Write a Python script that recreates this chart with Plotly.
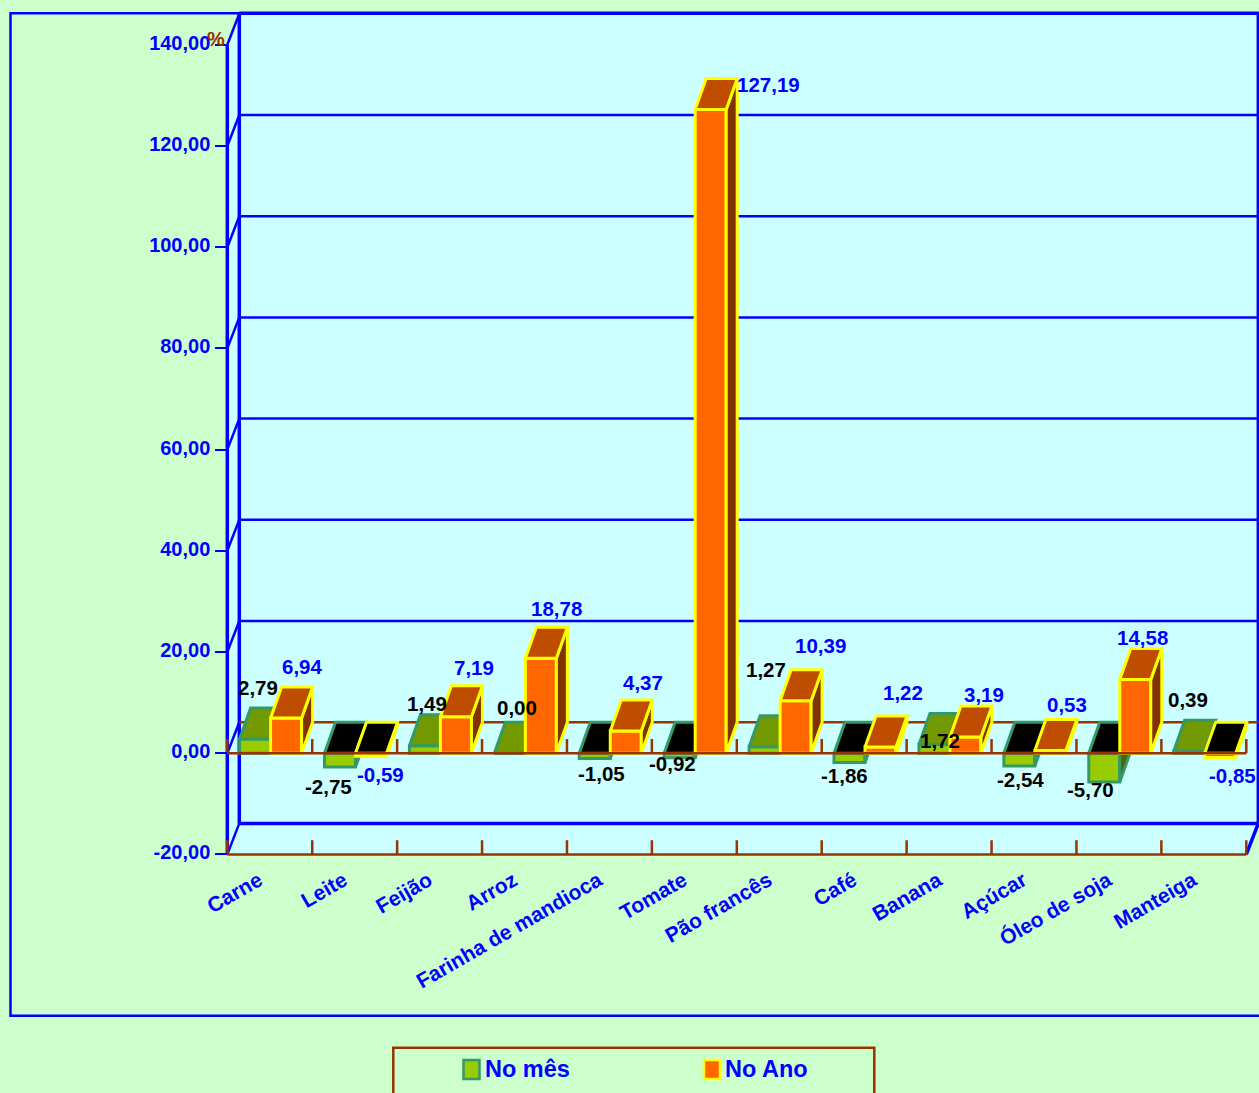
import plotly.graph_objects as go

categories = ["Carne", "Leite", "Feijão", "Arroz", "Farinha de mandioca", "Tomate",
              "Pão francês", "Café", "Banana", "Açúcar", "Óleo de soja", "Manteiga"]
no_mes = [2.79, -2.75, 1.49, 0.00, -1.05, -0.92, 1.27, -1.86, 1.72, -2.54, -5.70, 0.39]
no_ano = [6.94, -0.59, 7.19, 18.78, 4.37, 127.19, 10.39, 1.22, 3.19, 0.53, 14.58, -0.85]
y_ticks = [-20, 0, 20, 40, 60, 80, 100, 120, 140]

# label nudges in pixels (right, up) relative to each bar's front end
mes_nudge = [(4, 52), (-11, -19), (3, 42), (8, 46), (7, -15), (-6, -6),
             (2, 77), (-4, -13), (6, 4), (2, -13), (-13, -7), (0, 52)]
ano_nudge = [(14, 52), (8, -18), (16, 49), (14, 50), (16, 49), (56, 25),
             (23, 55), (21, 55), (17, 43), (15, 46), (6, 42), (11, -18)]

W, H = 1259, 1093
# plot frame in page pixels; the front axes sit a little inside so their strokes are not cut
L, R, T, B = 220.0, 1259.0, 6.0, 862.0
AX_L, AX_R, AX_B, ZERO = 227.3, 1246.3, 854.3, 753.2
PX_X = (AX_R - AX_L) / 12         # pixels per category
PX_Y = 5.06                       # pixels per value unit
DX = 12 / PX_X                    # oblique depth in axis units
BAR_DX = 11 / PX_X
DY = 31 / PX_Y
X_RANGE = [(L - AX_L) / PX_X, (R - AX_L) / PX_X]
Y_RANGE = [(ZERO - B) / PX_Y, (ZERO - T) / PX_Y]
BAR_W = 31 / PX_X
Y_BACK_TOP = (ZERO - 13.3) / PX_Y

BLUE = "#0000FF"
BROWN = "#993300"
FONT = "Liberation Sans"


def px(x):
    return (x - L) / (R - L)


def py(y):
    return (B - y) / (B - T)


def bold(size, color):
    return dict(family=FONT, size=size, color=color, weight=700)


def faces(values, offset):
    top_x, top_y, neg_x, neg_y, side_x, side_y = [], [], [], [], [], []
    for k, v in enumerate(values):
        x0 = k + 0.5 + offset
        x1 = x0 + BAR_W
        lev = max(v, 0)
        tx, ty = (top_x, top_y) if v >= 0 else (neg_x, neg_y)
        tx += [x0, x1, x1 + BAR_DX, x0 + BAR_DX, x0, None]
        ty += [lev, lev, lev + DY, lev + DY, lev, None]
        low = min(v, 0)
        side_x += [x1, x1 + BAR_DX, x1 + BAR_DX, x1, x1, None]
        side_y += [lev, lev + DY, low + DY, low, lev, None]
    return top_x, top_y, neg_x, neg_y, side_x, side_y


def poly(xs, ys, fill, line, width, ax):
    return go.Scatter(x=xs, y=ys, mode="lines", fill="toself", fillcolor=fill,
                      line=dict(color=line, width=width), hoverinfo="skip",
                      showlegend=False, xaxis="x" + ax, yaxis="y" + ax)


def lines(xs, ys, color, width, ax):
    return go.Scatter(x=xs, y=ys, mode="lines", line=dict(color=color, width=width),
                      hoverinfo="skip", showlegend=False, xaxis="x" + ax, yaxis="y" + ax)


fig = go.Figure()

# walls and floor
x_end = 12 + DX
y_top = Y_BACK_TOP
fig.add_trace(go.Scatter(x=[0, 0, DX, x_end, x_end, 12, 0],
                         y=[-20, 140, y_top, y_top, -20 + DY, -20, -20],
                         mode="lines", fill="toself", fillcolor="#CCFFFF", line=dict(width=0),
                         hoverinfo="skip", showlegend=False))

# back grid and left wall
gx, gy = [], []
for t in y_ticks:
    gx += [0, DX, None]
    gy += [t, t + DY, None]
    if t not in (0, 140):
        gx += [DX, x_end, None]
        gy += [t + DY, t + DY, None]
fig.add_trace(lines(gx, gy, BLUE, 2.5, ""))
fig.add_trace(lines([0, 0, None, DX, DX, None, DX, x_end, x_end, None, 12, x_end],
                    [-20, 140, None, -20 + DY, y_top, None, y_top, y_top, -20 + DY, None, -20, -20 + DY],
                    BLUE, 3.5, ""))
fig.add_trace(lines([DX, x_end], [DY, DY], BROWN, 2.5, ""))
fig.add_trace(lines([DX, x_end], [-20 + DY, -20 + DY], BLUE, 3.5, ""))

ORANGE_OFF = 0.01
GREEN_OFF = ORANGE_OFF - BAR_W
centres = [k + 0.5 for k in range(12)]

# series: No mês
t_x, t_y, n_x, n_y, s_x, s_y = faces(no_mes, GREEN_OFF)
fig.add_trace(go.Bar(name="No mês", x=centres, y=no_mes, width=BAR_W, offset=GREEN_OFF,
                     marker=dict(color="#99CC00", line=dict(color="#339966", width=3)),
                     xaxis="x2", yaxis="y2", hovertext=categories, showlegend=False))
fig.add_trace(poly(s_x, s_y, "#4D6600", "#339966", 3, "2"))
fig.add_trace(poly(t_x, t_y, "#739900", "#339966", 3, "2"))
fig.add_trace(poly(n_x, n_y, "#000000", "#339966", 3, "2"))

# series: No Ano
t_x, t_y, n_x, n_y, s_x, s_y = faces(no_ano, ORANGE_OFF)
fig.add_trace(go.Bar(name="No Ano", x=centres, y=no_ano, width=BAR_W, offset=ORANGE_OFF,
                     marker=dict(color="#FF6600", line=dict(color="#FFFF00", width=3)),
                     xaxis="x3", yaxis="y3", hovertext=categories, showlegend=False))
fig.add_trace(poly(s_x, s_y, "#803300", "#FFFF00", 3, "3"))
fig.add_trace(poly(t_x, t_y, "#BF4D00", "#FFFF00", 3, "3"))
fig.add_trace(poly(n_x, n_y, "#000000", "#FFFF00", 3, "3"))

# brown front axis and tick marks
fx, fy = [0, 12, None, 0, 12, None], [0, 0, None, -20, -20, None]
for k in range(13):
    fx += [k, k, None, k, k, None]
    fy += [0, 2.8, None, -20, -17.2, None]
fig.add_trace(lines(fx, fy, BROWN, 2.5, "4"))

annotations = []
for vals, nudge, anchor, color in ((no_mes, mes_nudge, 0.015 - 16.7 / PX_X, "#000000"),
                                   (no_ano, ano_nudge, 0.015 + 16.7 / PX_X, BLUE)):
    for k, v in enumerate(vals):
        annotations.append(dict(x=k + 0.5 + anchor, y=v, xref="x", yref="y",
                                text=f"{v:.2f}".replace(".", ","), showarrow=False,
                                xshift=nudge[k][0], yshift=nudge[k][1],
                                xanchor="center", yanchor="middle", font=bold(20.5, color)))
annotations.append(dict(x=px(216), y=py(39), xref="paper", yref="paper", text="%", showarrow=False,
                        xanchor="center", yanchor="middle", font=bold(20, BROWN)))

shapes = [
    dict(type="rect", xref="paper", yref="paper", layer="below",
         x0=px(10.5), x1=px(1270), y0=py(13.3), y1=py(1015.7),
         line=dict(color=BLUE, width=2.5)),
    dict(type="rect", xref="paper", yref="paper", layer="below",
         x0=px(393.3), x1=px(874.3), y0=py(1047.7), y1=py(1110),
         line=dict(color=BROWN, width=2.5)),
]
# legend entries
for name, fill, edge, x0, xt in (("No mês", "#99CC00", "#339966", 463.5, 483),
                                 ("No Ano", "#FF6600", "#FFFF00", 704, 723)):
    shapes.append(dict(type="rect", xref="paper", yref="paper", x0=px(x0), x1=px(x0 + 16),
                       y0=py(1060), y1=py(1079), fillcolor=fill, line=dict(color=edge, width=2.5)))
    annotations.append(dict(x=px(xt), y=py(1069), xref="paper", yref="paper", text=name,
                            showarrow=False, xanchor="left", yanchor="middle", font=bold(23.5, BLUE)))

hidden = dict(visible=False, fixedrange=True)
fig.update_layout(
    width=W, height=H, autosize=False,
    margin=dict(l=L, r=W - R, t=T, b=H - B, pad=0),
    paper_bgcolor="#CCFFCC", plot_bgcolor="rgba(0,0,0,0)",
    font=dict(family=FONT, color=BLUE, size=20),
    barmode="overlay",
    annotations=annotations,
    shapes=shapes,
    showlegend=False,
    xaxis=dict(range=X_RANGE, tickmode="array", tickvals=centres, ticktext=categories,
               anchor="free", position=py(AX_B),
               tickangle=-30, ticks="", showgrid=False, zeroline=False, showline=False,
               ticklabelstandoff=9, ticklabelshift=-11,
               tickfont=bold(21, BLUE), fixedrange=True),
    yaxis=dict(range=Y_RANGE, tickmode="array", tickvals=y_ticks,
               ticktext=[f"{t:.2f}".replace(".", ",") for t in y_ticks],
               anchor="free", position=px(AX_L),
               ticks="outside", ticklen=12, tickwidth=2, tickcolor=BLUE,
               ticklabelstandoff=1, ticklabelshift=-2,
               showgrid=False, zeroline=False, showline=False,
               tickfont=bold(20, BLUE), fixedrange=True),
    xaxis2=dict(overlaying="x", range=X_RANGE, **hidden),
    yaxis2=dict(overlaying="y", range=Y_RANGE, **hidden),
    xaxis3=dict(overlaying="x", range=X_RANGE, **hidden),
    yaxis3=dict(overlaying="y", range=Y_RANGE, **hidden),
    xaxis4=dict(overlaying="x", range=X_RANGE, **hidden),
    yaxis4=dict(overlaying="y", range=Y_RANGE, **hidden),
)

fig.write_html("out.html", config=dict(displayModeBar=False),
               post_script="document.body.style.margin='0';document.documentElement.style.overflow='hidden';")
